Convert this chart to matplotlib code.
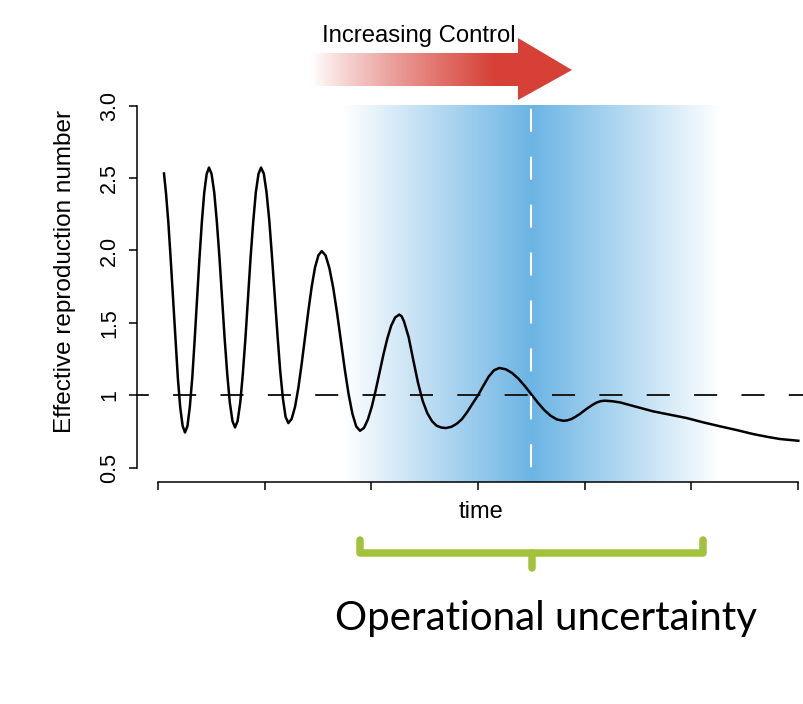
import numpy as np
import matplotlib
matplotlib.use("Agg")
import matplotlib.pyplot as plt
from matplotlib.patches import Polygon

plt.rcParams["font.family"] = ["Liberation Sans", "DejaVu Sans"]
plt.rcParams["lines.scale_dashes"] = False

# effective reproduction number over time
TIME = [0.056, 0.075, 0.097, 0.119, 0.142, 0.164, 0.186, 0.208, 0.231, 0.253,
        0.276, 0.298, 0.321, 0.343, 0.366, 0.388, 0.411, 0.433, 0.456, 0.478,
        0.502, 0.527, 0.551, 0.576, 0.600, 0.624, 0.649, 0.673, 0.698, 0.722,
        0.746, 0.771, 0.795, 0.820, 0.844, 0.868, 0.893, 0.917, 0.942, 0.966,
        0.992, 1.017, 1.043, 1.068, 1.094, 1.120, 1.145, 1.171, 1.196, 1.222,
        1.253, 1.285, 1.316, 1.347, 1.379, 1.410, 1.441, 1.472, 1.504, 1.535,
        1.571, 1.607, 1.643, 1.679, 1.715, 1.750, 1.786, 1.822, 1.858, 1.894,
        1.931, 1.967, 2.004, 2.040, 2.077, 2.113, 2.150, 2.186, 2.223, 2.262,
        2.284, 2.306, 2.350, 2.393, 2.437, 2.481, 2.525, 2.569, 2.612, 2.656, 2.700,
        2.750, 2.800, 2.850, 2.900, 2.950, 3.000, 3.050, 3.100, 3.150, 3.200,
        3.260, 3.320, 3.380, 3.440, 3.500, 3.560, 3.620, 3.680, 3.740, 3.800,
        3.839, 3.878, 3.917, 3.956, 3.995, 4.034, 4.073, 4.112, 4.151, 4.190,
        4.260, 4.331, 4.487, 4.643, 4.800, 4.956, 5.112, 5.268, 5.425, 5.581,
        5.720, 5.831, 6.003]
R_EFF = [2.532, 2.395, 2.193, 1.938, 1.656, 1.374, 1.119, 0.917, 0.787, 0.742,
         0.787, 0.917, 1.119, 1.375, 1.658, 1.940, 2.196, 2.398, 2.528, 2.573,
         2.529, 2.402, 2.203, 1.953, 1.675, 1.398, 1.147, 0.949, 0.821, 0.777,
         0.821, 0.949, 1.147, 1.398, 1.675, 1.953, 2.203, 2.402, 2.529, 2.573,
         2.530, 2.404, 2.209, 1.963, 1.690, 1.417, 1.171, 0.976, 0.850, 0.807,
         0.836, 0.921, 1.052, 1.218, 1.402, 1.585, 1.751, 1.883, 1.967, 1.996,
         1.966, 1.877, 1.740, 1.567, 1.375, 1.183, 1.010, 0.873, 0.784, 0.754,
         0.774, 0.831, 0.920, 1.031, 1.156, 1.280, 1.392, 1.480, 1.537, 1.557,
         1.545, 1.510, 1.400, 1.243, 1.087, 0.961, 0.875, 0.820, 0.789, 0.776, 0.773,
         0.781, 0.802, 0.835, 0.885, 0.943, 0.999, 1.065, 1.128, 1.172, 1.188,
         1.179, 1.153, 1.113, 1.062, 1.006, 0.949, 0.898, 0.858, 0.832, 0.823,
         0.826, 0.836, 0.852, 0.871, 0.893, 0.914, 0.933, 0.949, 0.959, 0.962,
         0.958, 0.950, 0.919, 0.888, 0.865, 0.842, 0.812, 0.785, 0.759, 0.731,
         0.711, 0.697, 0.685]

THRESHOLD = 1.0
CONTROL_TIME = 3.5            # white dashed marker
BAND_START, BAND_END = 1.734, 5.269   # operational uncertainty band
X_TICKS = [0, 1, 2, 3, 4, 5, 6]
Y_TICKS = [0.5, 1.0, 1.5, 2.0, 2.5, 3.0]
Y_TICK_LABELS = ["0.5", "1", "1.5", "2.0", "2.5", "3.0"]

W, H = 804, 704
BLUE = np.array([108, 180, 228]) / 255
RED = np.array([214, 64, 54]) / 255
GREEN = "#a3c23c"

fig = plt.figure(figsize=(W / 100, H / 100), dpi=100)

# main plot region (right edge runs past the figure, as in the original crop)
ax = fig.add_axes([137 / W, (H - 482) / H, (825 - 137) / W, (482 - 91.3) / H])
ax.set_xlim(-0.197, 6.253)
ax.set_ylim(0.4, 3.1)

# blue gradient band, peaking at the control time
n = 600
tt = np.linspace(BAND_START, BAND_END, n)
left = np.clip((tt - BAND_START) / (CONTROL_TIME - BAND_START), 0, 1)
right = np.clip((BAND_END - tt) / (BAND_END - CONTROL_TIME), 0, 1)
k = np.where(tt <= CONTROL_TIME, left, right)[None, :, None]
band = 1 - k * (1 - BLUE[None, None, :])
ax.imshow(band, extent=[BAND_START, BAND_END, 0.4, 3.0], aspect="auto",
          interpolation="bilinear", zorder=0)

xl = ax.get_xlim()
ax.plot(xl, [THRESHOLD, THRESHOLD], color="#1a1a1a", lw=1.4,
        linestyle=(8.1, (16.6, 17.5)), zorder=2)
ax.plot(TIME, R_EFF, color="black", lw=1.8, solid_joinstyle="round", zorder=3)
ax.plot([CONTROL_TIME, CONTROL_TIME], [3.0, 0.4], color="white", lw=1.5,
        linestyle=(32.5, (16.6, 17.9)), zorder=4)

for s in ["top", "right"]:
    ax.spines[s].set_visible(False)
ax.spines["left"].set_bounds(0.5, 3.0)
ax.spines["bottom"].set_bounds(0, 6)
for s in ["left", "bottom"]:
    ax.spines[s].set_linewidth(1.1)
ax.set_facecolor("none")

ax.set_xticks(X_TICKS)
ax.set_xticklabels([])
ax.set_yticks(Y_TICKS)
ax.set_yticklabels(Y_TICK_LABELS, rotation=90, va="center", fontsize=15.5)
ax.tick_params(direction="out", length=5.8, width=1.1, pad=6.5)

# overlay in pixel coordinates for annotations
ov = fig.add_axes([0, 0, 1, 1])
ov.set_xlim(0, W)
ov.set_ylim(H, 0)
ov.axis("off")

ov.text(65, 271.5, "Effective reproduction number", rotation=90,
        ha="center", va="center", fontsize=17.5)
ov.text(481, 518, "time", ha="center", va="baseline", fontsize=17)
ov.text(322, 42, "Increasing Control", ha="left", va="baseline", fontsize=17.2)

# gradient arrow
arrow = Polygon([(313, 53), (518, 53), (518, 38), (572, 70), (518, 100),
                 (518, 86), (313, 86)], closed=True, facecolor="none",
                edgecolor="none")
ov.add_patch(arrow)
xs = np.linspace(313, 572, 400)
f = np.clip((xs - 313) / (495 - 313), 0, 1) ** 0.85
grad = 1 - f[None, :, None] * (1 - RED[None, None, :])
im = ov.imshow(grad, extent=[313, 572, 100, 38], aspect="auto",
               interpolation="bilinear")
im.set_clip_path(arrow)

# green bracket
ov.plot([360, 360, 703, 703], [540, 553, 553, 540], color=GREEN, lw=5.4,
        solid_joinstyle="round", solid_capstyle="round")
ov.plot([532, 532], [553, 568], color=GREEN, lw=5.4, solid_capstyle="round")

ov.text(546, 630, "Operational uncertainty", ha="center", va="baseline",
        fontsize=29, family=["Lato", "DejaVu Sans"], color="black")

fig.savefig("out.png", dpi=100)
